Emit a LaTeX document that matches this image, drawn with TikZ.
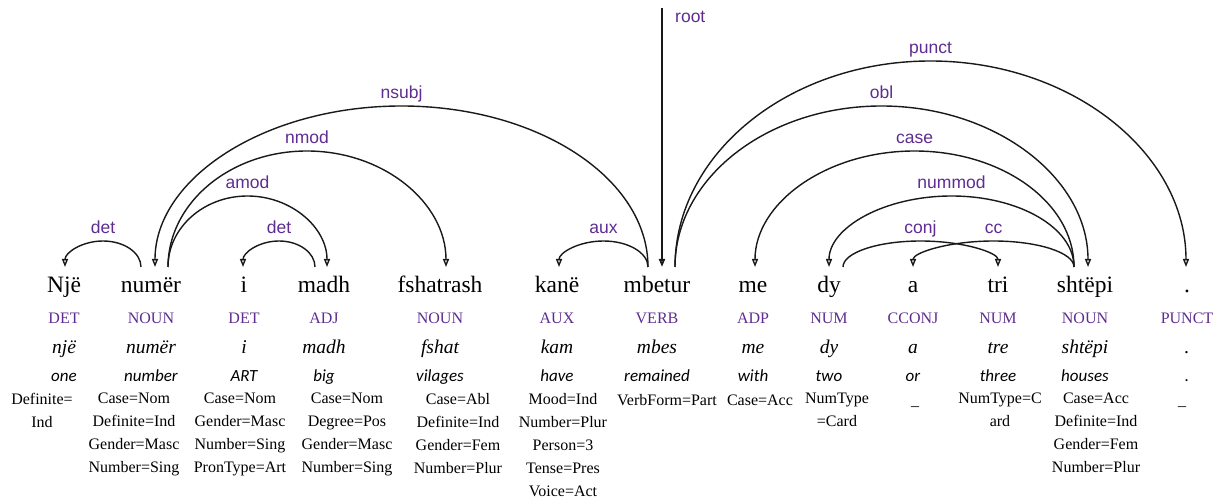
\documentclass[tikz,border=0pt]{standalone}
\usepackage{fontspec}
\setmainfont{Liberation Serif}
\newfontfamily\glossfont{Carlito}
\newfontfamily\lblfont{Liberation Sans}
\usetikzlibrary{arrows.meta,calc}

\definecolor{udpurple}{RGB}{95,45,145}
\definecolor{arcgray}{RGB}{25,25,25}

\tikzset{
  word/.style={anchor=base, inner sep=0pt, text height=17pt, outer ysep=9pt,
    font=\fontsize{23.5}{28}\selectfont},
  upos/.style={anchor=base, inner sep=0pt, text=udpurple, font=\fontsize{16}{19}\selectfont},
  lemma/.style={anchor=base, inner sep=0pt, font=\fontsize{19.5}{23}\selectfont\itshape},
  gloss/.style={anchor=base, inner sep=0pt, font=\fontsize{17}{20}\selectfont\glossfont\itshape},
  feats/.style={anchor=north, inner sep=0pt, align=center,
    font=\fontsize{16}{23}\selectfont, execute at begin node={\rule{0pt}{12pt}}},
  dep/.style={draw=arcgray, line width=1.4pt, -{Triangle[open,length=8pt,width=6pt]}},
  deplabel/.style={anchor=base, inner sep=0pt, text=udpurple,
    font=\fontsize{17.5}{21}\selectfont\lblfont},
}

\begin{document}
\begin{tikzpicture}[x=1pt,y=1pt]
  \fill[white] (0,0) rectangle (1223,501);
  \useasboundingbox (0,0) rectangle (1223,501);

  % Tokens: word, upos, lemma, gloss and features
  \foreach \n/\x/\w/\p/\l/\g/\fx/\f in {
    nje/64/Një/DET/një/one/42/{Definite=\\Ind},
    numer/151/numër/NOUN/numër/number/134/{Case=Nom\\Definite=Ind\\Gender=Masc\\Number=Sing},
    i/244/i/DET/i/ART/240/{Case=Nom\\Gender=Masc\\Number=Sing\\PronType=Art},
    madh/324/madh/ADJ/madh/big/347/{Case=Nom\\Degree=Pos\\Gender=Masc\\Number=Sing},
    fshatrash/440/fshatrash/NOUN/fshat/vilages/458/{Case=Abl\\Definite=Ind\\Gender=Fem\\Number=Plur},
    kane/557/kanë/AUX/kam/have/563/{Mood=Ind\\Number=Plur\\Person=3\\Tense=Pres\\Voice=Act},
    mbetur/657/mbetur/VERB/mbes/remained/667/{VerbForm=Part},
    me/753/me/ADP/me/with/760/{Case=Acc},
    dy/829/dy/NUM/dy/two/837/{NumType\\=Card},
    a/913/a/CCONJ/a/or/915/{\_},
    tri/998/tri/NUM/tre/three/1000/{NumType=C\\ard},
    shtepi/1085/shtëpi/NOUN/shtëpi/houses/1096/{Case=Acc\\Definite=Ind\\Gender=Fem\\Number=Plur},
    pika/1187/./PUNCT/././1184/{\_}
  } {
    \node[word] (\n) at (\x,208) {\w};
    \node[upos] (\n-pos) at (\x,177) {\p};
    \node[lemma] (\n-lem) at (\x,148) {\l};
    \node[gloss] (\n-gl) at (\x,119.5) {\g};
    \node[feats] (\n-ft) at (\fx,108) {\f};
  }

  % Dependency arcs: head/offset/dependent/offset/level/label
  \foreach \h/\hx/\d/\dx/\lev/\lab in {
    numer/-10/nje/1/1/det,
    madh/-9/i/-1/1/det,
    numer/17/madh/3/2/amod,
    numer/17/fshatrash/6/3/nmod,
    mbetur/-9/numer/4/4/nsubj,
    mbetur/-9/kane/2/1/aux,
    mbetur/18/pika/-1/5/punct,
    mbetur/18/shtepi/3/4/obl,
    shtepi/-11/me/2/3/case,
    shtepi/-11/dy/0/2/nummod,
    dy/14/tri/0/1/conj,
    shtepi/-11/a/0/1/cc
  } {
    \draw[dep] let \p1=($(\h.north)+(\hx,0)$), \p2=($(\d.north)+(\dx,0)$),
      \n1={26+45*(\lev-1)} in
      (\p1) arc[start angle=180, end angle=0, x radius={(\x2-\x1)/2}, y radius={\n1*1pt}];
    \path let \p1=($(\h.north)+(\hx,0)$), \p2=($(\d.north)+(\dx,0)$),
      \n1={26+45*(\lev-1)} in
      ({(\x1+\x2)/2},{\y1+\n1*1pt+7pt}) node[deplabel] {\lab};
  }

  % Root
  \coordinate (roottop) at ($(mbetur.north)+(5,259)$);
  \draw[dep, line width=1.8pt] (roottop) -- ($(mbetur.north)+(5,0)$);
  \node[deplabel, anchor=base west] (rootlbl) at ($(roottop)+(13,-15)$) {root};

\end{tikzpicture}
\end{document}
